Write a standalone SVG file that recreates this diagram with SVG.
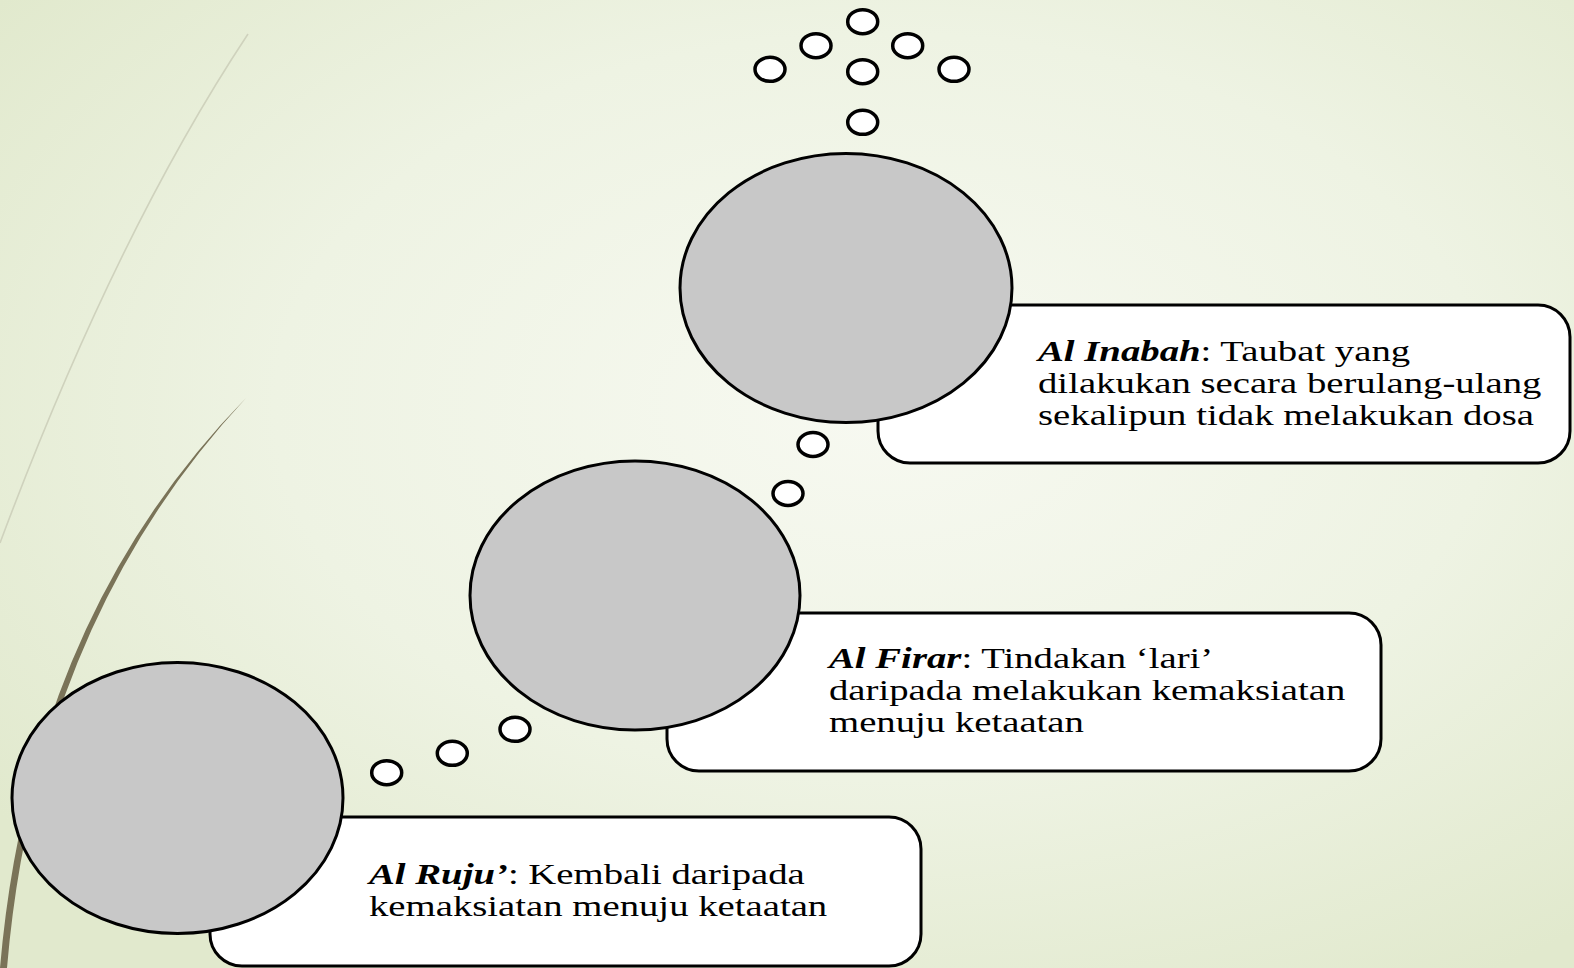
<svg xmlns="http://www.w3.org/2000/svg" width="1574" height="968" viewBox="0 0 1574 968">
<defs>
<radialGradient id="bg" cx="0.56" cy="0.42" r="0.7">
<stop offset="0" stop-color="#f7f9f1"/>
<stop offset="0.55" stop-color="#eef3e3"/>
<stop offset="1" stop-color="#e1e9cd"/>
</radialGradient>
</defs>
<style>
.big{fill:#c8c8c8;stroke:#000;stroke-width:3}
.small{fill:#fff;stroke:#000;stroke-width:3.5}
.box{fill:#fff;stroke:#000;stroke-width:3}
.t{font-family:"Liberation Serif","Times New Roman",serif;font-size:28.5px;fill:#000}
.h{font-weight:bold;font-style:italic}
</style>
<rect width="1574" height="968" fill="url(#bg)"/>
<g id="decor">
<path d="M248,34 Q115,235 0,543" fill="none" stroke="#cfd2bd" stroke-width="1.6"/>
<path d="M246,398 Q30,618 0,968 L7,968 Q36,624 246,398 Z" fill="#7a7358"/>
</g>
<g id="connectors">
<ellipse class="small" cx="862.7" cy="21.7" rx="15" ry="12"/>
<ellipse class="small" cx="816" cy="45.7" rx="15" ry="12"/>
<ellipse class="small" cx="907.7" cy="45.7" rx="15" ry="12"/>
<ellipse class="small" cx="770" cy="69.3" rx="15" ry="12"/>
<ellipse class="small" cx="862.7" cy="71.7" rx="15" ry="12"/>
<ellipse class="small" cx="954" cy="69.3" rx="15" ry="12"/>
<ellipse class="small" cx="862.7" cy="122.3" rx="15" ry="12"/>
<ellipse class="small" cx="813" cy="444.5" rx="15" ry="12"/>
<ellipse class="small" cx="788" cy="493.5" rx="15" ry="12"/>
<ellipse class="small" cx="515" cy="729.3" rx="15" ry="12"/>
<ellipse class="small" cx="452.3" cy="753.3" rx="15" ry="12"/>
<ellipse class="small" cx="386.7" cy="772.7" rx="15" ry="12"/>
</g>
<g id="node-inabah">
<rect class="box" x="878" y="305" width="692" height="158" rx="32"/>
<ellipse class="big" cx="846" cy="288" rx="166" ry="134.5"/>
<text class="t" transform="translate(1038,361) scale(1.36,1)"><tspan x="0" y="0"><tspan class="h">Al Inabah</tspan>: Taubat yang</tspan><tspan x="0" y="32">dilakukan secara berulang-ulang</tspan><tspan x="0" y="64">sekalipun tidak melakukan dosa</tspan></text>
</g>
<g id="node-firar">
<rect class="box" x="667" y="613" width="714" height="158" rx="32"/>
<ellipse class="big" cx="635" cy="595.5" rx="165" ry="134.5"/>
<text class="t" transform="translate(829,668) scale(1.36,1)"><tspan x="0" y="0"><tspan class="h">Al Firar</tspan>: Tindakan ‘lari’</tspan><tspan x="0" y="32">daripada melakukan kemaksiatan</tspan><tspan x="0" y="64">menuju ketaatan</tspan></text>
</g>
<g id="node-ruju">
<rect class="box" x="210" y="817" width="711" height="149" rx="32"/>
<ellipse class="big" cx="177.5" cy="798" rx="165.5" ry="135.5"/>
<text class="t" transform="translate(369,884) scale(1.36,1)"><tspan x="0" y="0"><tspan class="h">Al Ruju’</tspan>: Kembali daripada</tspan><tspan x="0" y="32">kemaksiatan menuju ketaatan</tspan></text>
</g>
</svg>
